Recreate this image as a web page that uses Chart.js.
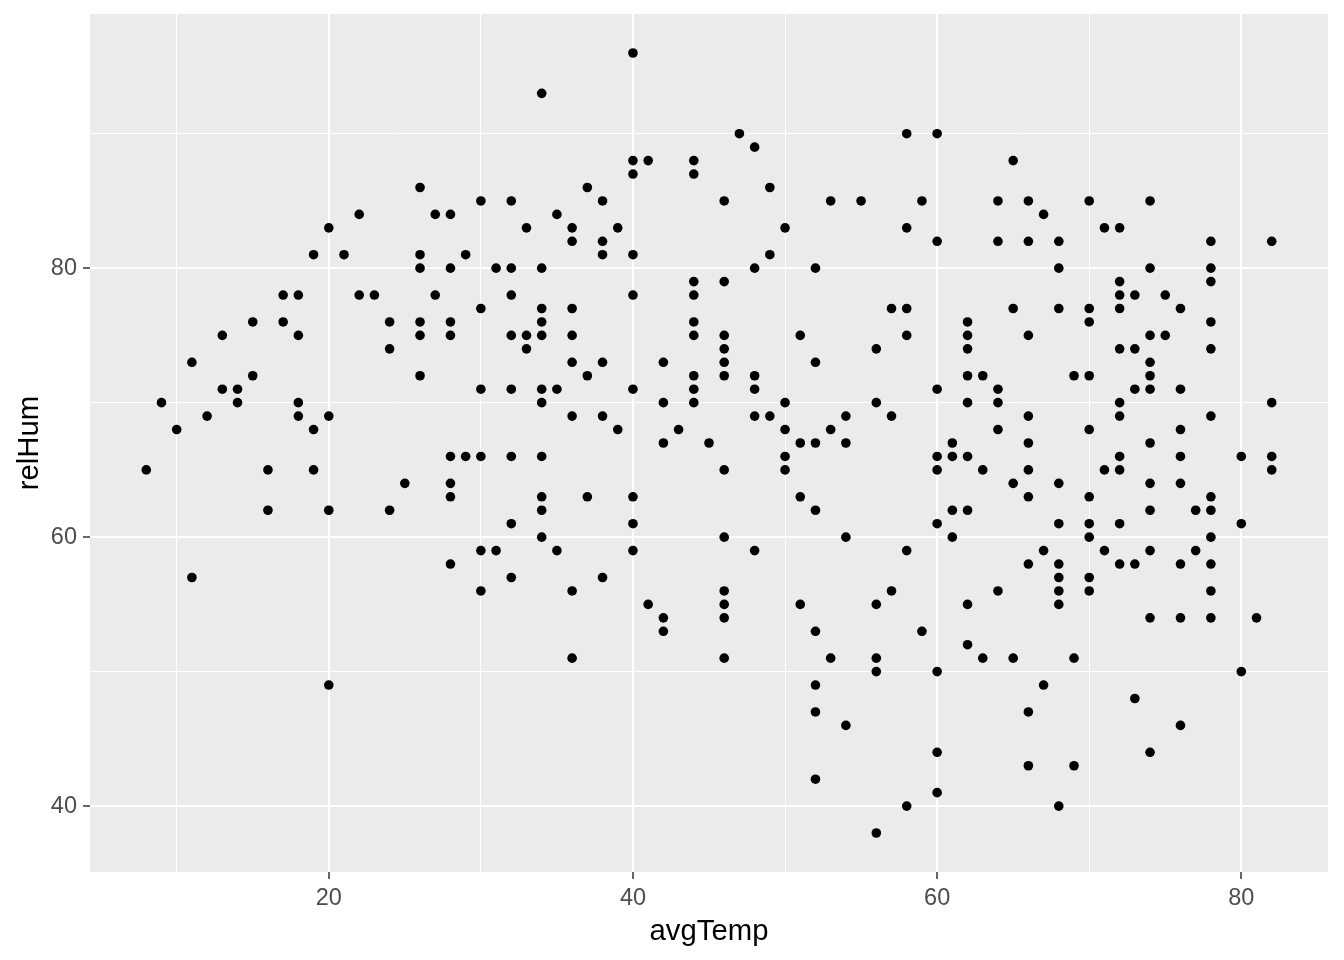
<!DOCTYPE html>
<html>
<head>
<meta charset="utf-8">
<script src="https://cdn.jsdelivr.net/npm/chart.js@4.4.1/dist/chart.umd.min.js"></script>
<style>
  html, body { margin: 0; padding: 0; background: #ffffff; }
  #wrap { width: 1344px; height: 960px; }
</style>
</head>
<body>
<div id="wrap"><canvas id="scatter" width="1344" height="960"></canvas></div>
<script>
// avgTemp values, and the relHum readings seen at each of them
const tempLevels = [8, 9, 10, 11, 12, 13, 14, 15, 16, 17, 18, 19, 20, 21, 22, 23, 24, 25, 26, 27, 28, 29,
    30, 31, 32, 33, 34, 35, 36, 37, 38, 39, 40, 41, 42, 43, 44, 45, 46, 47, 48, 49, 50, 51, 52, 53, 54,
    55, 56, 57, 58, 59, 60, 61, 62, 63, 64, 65, 66, 67, 68, 69, 70, 71, 72, 73, 74, 75, 76, 77, 78, 80, 81, 82];

const humByTemp = [
    [65], [70], [68], [73, 57], [69], [75, 71], [71, 70], [76, 72], [65, 62], [78, 76],
    [78, 75, 70, 69], [81, 68, 65], [83, 69, 62, 49], [81], [84, 78], [78], [76, 74, 62], [64],
    [86, 81, 80, 76, 75, 72], [84, 78], [84, 80, 76, 75, 66, 64, 63, 58], [81, 66],
    [85, 77, 71, 66, 59, 56], [80, 59], [85, 80, 78, 75, 71, 66, 61, 57], [83, 75, 74],
    [93, 80, 77, 76, 75, 71, 70, 66, 63, 62, 60], [84, 71, 59], [83, 82, 77, 75, 73, 69, 56, 51],
    [86, 72, 63], [85, 82, 81, 73, 69, 57], [83, 68], [96, 88, 87, 81, 78, 71, 63, 61, 59],
    [88, 55], [73, 70, 67, 54, 53], [68], [88, 87, 79, 78, 76, 75, 72, 71, 70], [67],
    [85, 79, 75, 74, 73, 72, 65, 60, 56, 55, 54, 51], [90], [89, 80, 72, 71, 69, 59], [86, 81, 69],
    [83, 70, 68, 66, 65], [75, 67, 63, 55], [80, 73, 67, 62, 53, 49, 47, 42], [85, 68, 51],
    [69, 67, 60, 46], [85], [74, 70, 55, 51, 50, 38], [77, 69, 56], [90, 83, 77, 75, 59, 40],
    [85, 53], [90, 82, 71, 66, 65, 61, 50, 44, 41], [67, 66, 62, 60],
    [76, 75, 74, 72, 70, 66, 62, 55, 52], [72, 65, 51], [85, 82, 71, 70, 68, 56], [88, 77, 64, 51],
    [85, 82, 75, 69, 67, 65, 63, 58, 47, 43], [84, 59, 49], [82, 80, 77, 64, 61, 58, 57, 56, 55, 40],
    [72, 51, 43], [85, 77, 76, 72, 68, 63, 61, 60, 57, 56], [83, 65, 59],
    [83, 79, 78, 77, 74, 70, 69, 66, 65, 61, 58], [78, 74, 71, 58, 48],
    [85, 80, 75, 73, 72, 71, 67, 64, 62, 59, 54, 44], [78, 75], [77, 71, 68, 66, 64, 58, 54, 46],
    [62, 59], [82, 80, 79, 76, 74, 69, 63, 62, 60, 58, 56, 54], [66, 61, 50], [54], [82, 70, 66, 65]
];

const xTicks = [10, 20, 30, 40, 50, 60, 70, 80];
const yTicks = [40, 50, 60, 70, 80, 90];
const xLabels = [20, 40, 60, 80];
const yLabels = [40, 60, 80];

const points = [];
tempLevels.forEach((t, i) => {
    humByTemp[i].forEach(h => points.push({ x: t, y: h }));
});

const FONT = "'Liberation Sans', Arial, sans-serif";

// grey panel behind the grid, like ggplot's theme_grey
const panelBackground = {
    id: 'panelBackground',
    beforeDraw(chart) {
        const { ctx, chartArea } = chart;
        ctx.save();
        ctx.fillStyle = '#EBEBEB';
        ctx.fillRect(chartArea.left, chartArea.top, chartArea.right - chartArea.left, chartArea.bottom - chartArea.top);
        ctx.restore();
    }
};

const isMajor = (ctx) => ctx.tick && ctx.tick.value % 20 === 0;

function gridFor() {
    return {
        color: '#FFFFFF',
        lineWidth: (ctx) => isMajor(ctx) ? 2 : 1,
        drawTicks: true,
        tickLength: 7,
        tickWidth: 1.5,
        tickColor: (ctx) => isMajor(ctx) ? '#333333' : 'rgba(0,0,0,0)'
    };
}

new Chart(document.getElementById('scatter').getContext('2d'), {
    type: 'scatter',
    data: {
        datasets: [{
            label: 'relHum',
            data: points,
            backgroundColor: '#000000',
            borderWidth: 0,
            pointRadius: 4.8,
            pointHoverRadius: 4.8
        }]
    },
    options: {
        responsive: false,
        animation: false,
        layout: { padding: { top: 14, right: 16, left: 0, bottom: 0 } },
        plugins: {
            legend: { display: false },
            tooltip: { enabled: false }
        },
        scales: {
            x: {
                type: 'linear',
                min: 4.3,
                max: 85.7,
                afterBuildTicks: (scale) => { scale.ticks = xTicks.map(v => ({ value: v })); },
                afterFit: (scale) => {
                    scale.height = 88;
                    scale.paddingLeft = 0;
                    scale.paddingRight = 0;
                },
                border: { display: false },
                grid: gridFor(),
                ticks: {
                    padding: 5,
                    color: '#4D4D4D',
                    font: { family: FONT, size: 23.5 },
                    maxRotation: 0,
                    autoSkip: false,
                    callback: (v) => xLabels.includes(v) ? String(v) : ''
                },
                title: {
                    display: true,
                    text: 'avgTemp',
                    color: '#000000',
                    font: { family: FONT, size: 29.3 },
                    padding: { top: 0, bottom: 11 }
                }
            },
            y: {
                type: 'linear',
                min: 35.1,
                max: 98.9,
                afterBuildTicks: (scale) => { scale.ticks = yTicks.map(v => ({ value: v })); },
                afterFit: (scale) => {
                    scale.width = 90;
                    scale.paddingTop = 0;
                    scale.paddingBottom = 0;
                },
                border: { display: false },
                grid: gridFor(),
                ticks: {
                    padding: 6,
                    color: '#4D4D4D',
                    font: { family: FONT, size: 23.5 },
                    autoSkip: false,
                    callback: (v) => yLabels.includes(v) ? String(v) : ''
                },
                title: {
                    display: true,
                    text: 'relHum',
                    color: '#000000',
                    font: { family: FONT, size: 29.3 },
                    padding: { top: 12, bottom: 0 }
                }
            }
        }
    },
    plugins: [panelBackground]
});
</script>
</body>
</html>
